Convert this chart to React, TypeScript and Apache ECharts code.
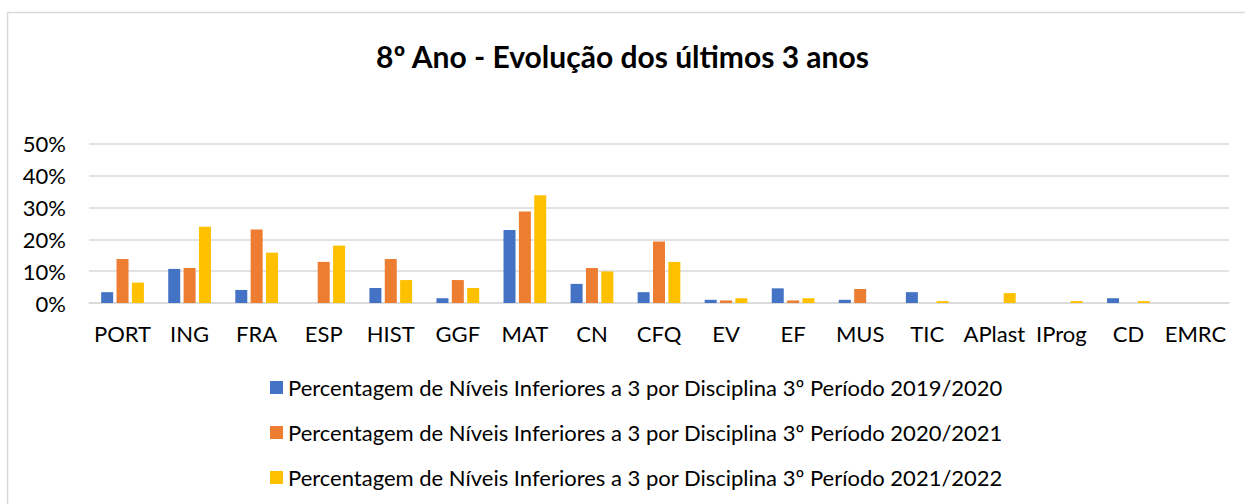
import React, { useEffect, useRef } from "react";
import * as echarts from "echarts";

const categories = ["PORT", "ING", "FRA", "ESP", "HIST", "GGF", "MAT", "CN", "CFQ", "EV", "EF", "MUS", "TIC", "APlast", "IProg", "CD", "EMRC"];
const seriesNames = [
  "Percentagem de Níveis Inferiores a 3 por Disciplina 3º Período 2019/2020",
  "Percentagem de Níveis Inferiores a 3 por Disciplina 3º Período 2020/2021",
  "Percentagem de Níveis Inferiores a 3 por Disciplina 3º Período 2021/2022",
];
const values2019 = [0.034, 0.107, 0.041, 0, 0.047, 0.015, 0.229, 0.06, 0.034, 0.01, 0.046, 0.01, 0.034, 0, 0, 0.015, 0];
const values2020 = [0.138, 0.11, 0.231, 0.129, 0.138, 0.072, 0.287, 0.11, 0.193, 0.008, 0.008, 0.044, 0, 0, 0, 0, 0];
const values2021 = [0.064, 0.239, 0.158, 0.18, 0.072, 0.047, 0.338, 0.099, 0.129, 0.015, 0.015, 0, 0.006, 0.031, 0.006, 0.006, 0];
const colors = ["#4472C4", "#ED7D31", "#FFC000"];
const titleText = "8º Ano - Evolução dos últimos 3 anos";

const FONT = "Lato, 'Noto Sans', sans-serif";

export default function App() {
  const ref = useRef<HTMLDivElement>(null);
  useEffect(() => {
    if (!ref.current) return;
    const chart = echarts.init(ref.current, null, { renderer: "svg" });
    const dataSets = [values2019, values2020, values2021];
    chart.setOption({
      animation: false,
      backgroundColor: "#ffffff",
      textStyle: { fontFamily: FONT },
      graphic: [
        {
          type: "rect",
          shape: { x: 7.5, y: 12.5, width: 1300, height: 600 },
          style: { fill: "none", stroke: "#d9d9d9", lineWidth: 1.5 },
          silent: true,
        },
      ],
      title: {
        text: titleText,
        left: "center",
        top: 36,
        textStyle: { fontFamily: FONT, fontWeight: "bold", fontSize: 30, color: "#000", lineHeight: 30 },
      },
      legend: {
        orient: "vertical",
        left: 270,
        top: 376,
        padding: 0,
        itemWidth: 13,
        itemHeight: 13,
        itemGap: 22,
        icon: "rect",
        textStyle: { fontFamily: FONT, fontSize: 22, color: "#000", lineHeight: 23 },
        data: seriesNames,
      },
      grid: { left: 89, right: 16, top: 143.7, bottom: 201, containLabel: false },
      xAxis: {
        type: "category",
        data: categories,
        axisLine: { lineStyle: { color: "#d9d9d9", width: 1.5 } },
        axisTick: { show: false },
        axisLabel: { color: "#000", fontSize: 22, fontFamily: FONT, margin: 19, interval: 0 },
      },
      yAxis: {
        type: "value",
        min: 0,
        max: 0.5,
        interval: 0.1,
        axisLine: { show: false },
        axisTick: { show: false },
        splitLine: { lineStyle: { color: "#d9d9d9", width: 1.5 } },
        axisLabel: {
          color: "#000",
          fontSize: 22,
          fontFamily: FONT,
          margin: 23,
          formatter: (v: number) => Math.round(v * 100) + "%",
        },
      },
      series: dataSets.map((d, i) => ({
        name: seriesNames[i],
        type: "bar",
        data: d,
        barWidth: 12,
        barGap: "28%",
        itemStyle: { color: colors[i] },
      })),
    });
    return () => chart.dispose();
  }, []);
  return <div ref={ref} style={{ position: "fixed", left: 0, top: 0, width: 1245, height: 504 }} />;
}
